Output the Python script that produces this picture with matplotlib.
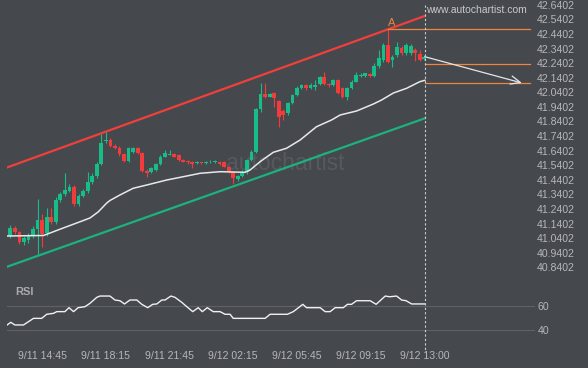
import matplotlib
matplotlib.use("Agg")
import matplotlib.pyplot as plt
from matplotlib.lines import Line2D
from matplotlib.transforms import blended_transform_factory

plt.rcParams['font.family'] = ['Liberation Sans', 'DejaVu Sans']

# --- data (15 min candles, index 0..91) ---
opens = [41.0548, 41.1097, 41.0823, 41.0137, 41.0274, 41.0548, 41.1029, 41.1646, 41.0754, 41.1852,
         41.1509, 41.3018, 41.3429, 41.3635, 41.3909, 41.2743, 41.3292, 41.3635, 41.4252, 41.4664,
         41.5487, 41.7064, 41.7133, 41.6742, 41.6605, 41.6152, 41.5692, 41.6330, 41.6564, 41.6221,
         41.5007, 41.4959, 41.5075, 41.5466, 41.5987, 41.6138, 41.6152, 41.6104, 41.5761, 41.5692,
         41.5603, 41.5555, 41.5603, 41.5555, 41.5590, 41.5624, 41.5624, 41.5624, 41.5302, 41.4938,
         41.4424, 41.4664, 41.4938, 41.5761, 41.6330, 41.9238, 42.0288, 42.0103, 42.0336, 41.9828,
         41.9142, 41.8964, 41.9650, 42.0219, 42.0679, 42.0905, 42.0679, 42.0802, 42.0974, 42.1433,
         42.0974, 42.0905, 42.1248, 42.0679, 42.0103, 42.0679, 42.1131, 42.1522, 42.1522, 42.1660,
         42.1522, 42.2208, 42.2620, 42.3649, 42.2620, 42.2963, 42.3422, 42.3079, 42.3079, 42.3306,
         42.3031, 42.2668]
highs = [41.1303, 41.1234, 41.0891, 41.0548, 41.0754, 41.1234, 41.3086, 41.2057, 41.2469, 41.2469,
         41.3223, 41.3566, 41.4869, 41.4115, 41.4046, 41.3429, 41.3772, 41.4938, 41.4869, 41.5624,
         41.7544, 41.7682, 41.7270, 41.6858, 41.6721, 41.6241, 41.6653, 41.6653, 41.6653, 41.6310,
         41.5144, 41.5281, 41.5555, 41.6104, 41.6447, 41.6447, 41.6241, 41.6173, 41.5830, 41.5761,
         41.5692, 41.5692, 41.5658, 41.5692, 41.5727, 41.5761, 41.5692, 41.5692, 41.5350, 41.5007,
         41.4732, 41.5075, 41.5830, 41.6447, 41.9328, 42.1022, 42.1022, 42.0356, 42.0425, 41.9876,
         41.9259, 41.9739, 42.0288, 42.0837, 42.0974, 42.0974, 42.1042, 42.1248, 42.1522, 42.1817,
         42.1042, 42.1317, 42.1317, 42.0768, 42.0768, 42.1248, 42.1817, 42.1728, 42.1762, 42.1728,
         42.2414, 42.3306, 42.3786, 42.4712, 42.2963, 42.3875, 42.3580, 42.3786, 42.3717, 42.3443,
         42.3306, 42.2963]
lows = [41.0411, 41.0686, 41.0000, 40.9931, 41.0068, 41.0411, 40.9314, 40.9794, 41.0548, 41.1372,
        41.1372, 41.2880, 41.3292, 41.3566, 41.2606, 41.2606, 41.3223, 41.3498, 41.4115, 41.4527,
        41.5418, 41.6927, 41.6653, 41.6516, 41.6035, 41.5624, 41.5624, 41.6241, 41.6173, 41.4938,
        41.4616, 41.4869, 41.5007, 41.5418, 41.5933, 41.6070, 41.5933, 41.5692, 41.5590, 41.5521,
        41.5192, 41.5487, 41.5487, 41.5521, 41.5555, 41.5555, 41.5452, 41.5247, 41.4869, 41.4115,
        41.4321, 41.4561, 41.4801, 41.5692, 41.6241, 41.9053, 42.0013, 42.0048, 41.9417, 41.8045,
        41.8505, 41.8847, 41.9602, 42.0151, 42.0631, 42.0596, 42.0631, 42.0562, 42.0905, 42.0905,
        42.0802, 42.0837, 42.0322, 42.0013, 41.9876, 42.0631, 42.1077, 42.1454, 42.1454, 42.1454,
        42.1454, 42.2071, 42.2483, 42.2414, 42.2160, 42.2826, 42.2963, 42.2963, 42.2963, 42.2517,
        42.2551, 42.2620]
closes = [41.1097, 41.0823, 41.0137, 41.0411, 41.0617, 41.1029, 41.1646, 41.0686, 41.1852, 41.1509,
          41.3018, 41.3429, 41.3703, 41.3909, 41.2743, 41.3292, 41.3635, 41.4252, 41.4664, 41.5487,
          41.6927, 41.7133, 41.6742, 41.6605, 41.6152, 41.5692, 41.6564, 41.6564, 41.6221, 41.5007,
          41.4849, 41.5192, 41.5466, 41.5987, 41.6221, 41.6186, 41.5987, 41.5761, 41.5644, 41.5603,
          41.5466, 41.5603, 41.5535, 41.5624, 41.5658, 41.5679, 41.5521, 41.5302, 41.4938, 41.4527,
          41.4664, 41.4938, 41.5761, 41.6330, 41.9238, 42.0288, 42.0103, 42.0288, 41.9993, 41.8731,
          41.8847, 41.9650, 42.0219, 42.0679, 42.0905, 42.0679, 42.0905, 42.0905, 42.1433, 42.0974,
          42.0871, 42.1248, 42.0377, 42.0103, 42.0679, 42.1131, 42.1591, 42.1625, 42.1694, 42.1522,
          42.2208, 42.2757, 42.3649, 42.2503, 42.2846, 42.3532, 42.3079, 42.3649, 42.3614, 42.3079,
          42.2620, 42.2846]

# moving average (white line), read at a few points: candle index, price
ma_idx = [-0.7, 7.3, 9.5, 12.4, 14.6, 17.5, 19.3, 21.2, 21.9, 24.1, 27.0, 30.0, 34.4, 38.8, 41.7,
          46.1, 51.6, 52.7, 54.9, 57.8, 60.7, 63.7, 67.3, 70.6, 72.5, 76.1, 79.8, 81.6, 84.2, 87.1,
          90.0, 91.1]
ma_val = [41.0549, 41.0583, 41.0844, 41.1187, 41.1440, 41.1783, 41.2195, 41.2812, 41.2984, 41.3361,
          41.3820, 41.4047, 41.4390, 41.4664, 41.4849, 41.4959, 41.4918, 41.5075, 41.5645, 41.6289,
          41.6564, 41.7133, 41.8045, 41.8505, 41.8848, 41.9122, 41.9602, 41.9876, 42.0356, 42.0679,
          42.1132, 42.1228]

# RSI line vertices
rsi_idx = [-0.7, 0.1, 1.0, 2.9, 5.1, 6.9, 8.0, 9.5, 10.2, 12.0, 12.9, 13.9, 14.9, 16.4, 17.5, 19.0,
           19.7, 21.9, 23.0, 24.1, 25.1, 26.3, 27.8, 28.9, 30.2, 31.3, 32.2, 33.3, 34.0, 35.3, 36.2,
           37.7, 38.8, 40.1, 41.3, 42.2, 43.3, 44.6, 46.1, 47.2, 48.3, 49.0, 56.0, 57.1, 60.9, 62.2,
           64.3, 65.1, 68.1, 69.2, 70.3, 71.4, 73.2, 74.1, 75.0, 76.1, 79.1, 80.4, 82.4, 83.4, 84.9,
           86.0, 87.0, 88.2, 91.1]
rsi_val = [44.2, 46.4, 44.2, 44.2, 49.7, 49.7, 53.1, 53.9, 55.3, 55.3, 58.6, 55.3, 58.6, 59.4, 62.2, 67.2,
           68.3, 68.3, 65.0, 64.4, 61.7, 65.0, 65.0, 61.4, 58.6, 61.4, 61.7, 65.0, 65.0, 68.3, 67.2,
           63.0, 59.4, 55.3, 58.6, 55.3, 58.6, 55.3, 55.3, 53.1, 53.1, 49.7, 49.7, 53.1, 53.1, 55.3,
           61.4, 58.6, 58.6, 55.3, 55.3, 58.6, 58.6, 61.4, 61.4, 64.4, 64.4, 61.4, 68.3, 67.7, 68.3,
           65.0, 64.4, 61.7, 61.7]

# channel and pattern levels
channel_idx = [-0.7, 91.1]
resistance = [41.525, 42.564]
support = [40.844, 41.862]
level_a = 42.4712
level_mid = 42.2345
level_low = 42.1042
forecast_end = 42.1042

price_ticks = [40.8402 + 0.1 * k for k in range(19)]
time_idx = [7, 21, 35, 49, 63, 77, 91]
time_labels = ['9/11 14:45', '9/11 18:15', '9/11 21:45', '9/12 02:15',
               '9/12 05:45', '9/12 09:15', '9/12 13:00']

# --- layout (pixel based) ---
W, H = 588, 368
BG = '#45484d'
TXT = '#b5b7ba'
RED = '#f23b3b'
GREEN = '#16bd86'
ORANGE = '#ee873d'
X0, STEP = 10.3, 4.55          # px of candle 0, px per candle
LEFT, RIGHT = 7, 535


def px_to_idx(px):
    return (px - X0) / STEP


def add_ax(top, bottom):
    return fig.add_axes([LEFT / W, 1 - bottom / H, (RIGHT - LEFT) / W, (bottom - top) / H])


fig = plt.figure(figsize=(W / 100, H / 100), dpi=100, facecolor=BG)
ax = add_ax(0, 272)
rax = add_ax(285, 345)
for a in (ax, rax):
    a.set_facecolor(BG)
    for s in a.spines.values():
        s.set_visible(False)
    a.set_xlim(px_to_idx(LEFT), px_to_idx(RIGHT))

ax.set_ylim(42.6735 - 272 / 145.8, 42.6735)

# watermark
ax.text(px_to_idx(285), 41.55, 'autochartist', ha='center', va='center', fontsize=16.5,
        color='#56595e', zorder=0)

# candles
for i in range(len(opens)):
    o, h, l, c = opens[i], highs[i], lows[i], closes[i]
    col = GREEN if c >= o else RED
    ax.vlines(i, l, h, color=col, lw=0.8, zorder=3)
    ax.bar(i, max(abs(c - o), 0.006), bottom=min(o, c), width=0.82, color=col, lw=0, zorder=4)

ax.plot(ma_idx, ma_val, color='#e8e8e8', lw=1.1, zorder=5)
ax.plot(channel_idx, resistance, color='#f0403c', lw=1.6, zorder=6)
ax.plot(channel_idx, support, color='#1cb27e', lw=1.6, zorder=6)

end_x = px_to_idx(530)
ax.plot([83.0, end_x], [level_a, level_a], color=ORANGE, lw=0.9, zorder=6)
ax.plot([91.1, end_x], [level_mid, level_mid], color=ORANGE, lw=0.9, zorder=6)
ax.plot([91.1, end_x], [level_low, level_low], color=ORANGE, lw=0.9, zorder=6)
ax.annotate('A', xy=(83.8, level_a), xytext=(0, 1), textcoords='offset points',
            ha='center', va='bottom', color=ORANGE, fontsize=8)
ax.annotate('', xy=(px_to_idx(522), forecast_end), xytext=(91.1, closes[-1]),
            arrowprops=dict(arrowstyle='->,head_length=0.7,head_width=0.3', color='#e6e6e6',
                            lw=0.9, shrinkA=0, shrinkB=0), zorder=7)

ax.set_xticks([])
ax.yaxis.tick_right()
ax.set_yticks(price_ticks)
ax.set_yticklabels([f'{v:.4f}' for v in price_ticks])
ax.tick_params(axis='y', length=0, pad=1.5, labelsize=7.6, labelcolor=TXT)

# RSI panel
rax.set_ylim(27.5, 77.5)
for v in (40, 60):
    rax.axhline(v, color='#5e6166', lw=0.8)
rax.plot(rsi_idx, rsi_val, color='#f0f0f0', lw=1.0)
rax.yaxis.tick_right()
rax.set_yticks([40, 60])
rax.tick_params(axis='y', length=0, pad=2, labelsize=7.6, labelcolor=TXT)
rax.set_xticks(time_idx)
rax.set_xticklabels(time_labels)
rax.tick_params(axis='x', length=0, pad=4, labelsize=7.6, labelcolor=TXT)
fig.text(15 / W, 1 - 292 / H, 'RSI', ha='left', va='center', fontsize=8,
         fontweight='bold', color='#a9abae')

fig.text(476 / W, 1 - 10 / H, 'www.autochartist.com', ha='center', va='center',
         fontsize=7.5, color='#c8c9cb')

# dashed "now" line across both panels
tr = blended_transform_factory(ax.transData, fig.transFigure)
fig.add_artist(Line2D([91.1, 91.1], [1 - 5 / H, 1 - 352 / H], transform=tr,
                      color='#cfd0d2', lw=0.8, ls=(0, (2, 2))))

fig.savefig('out.png', dpi=100, facecolor=BG)
